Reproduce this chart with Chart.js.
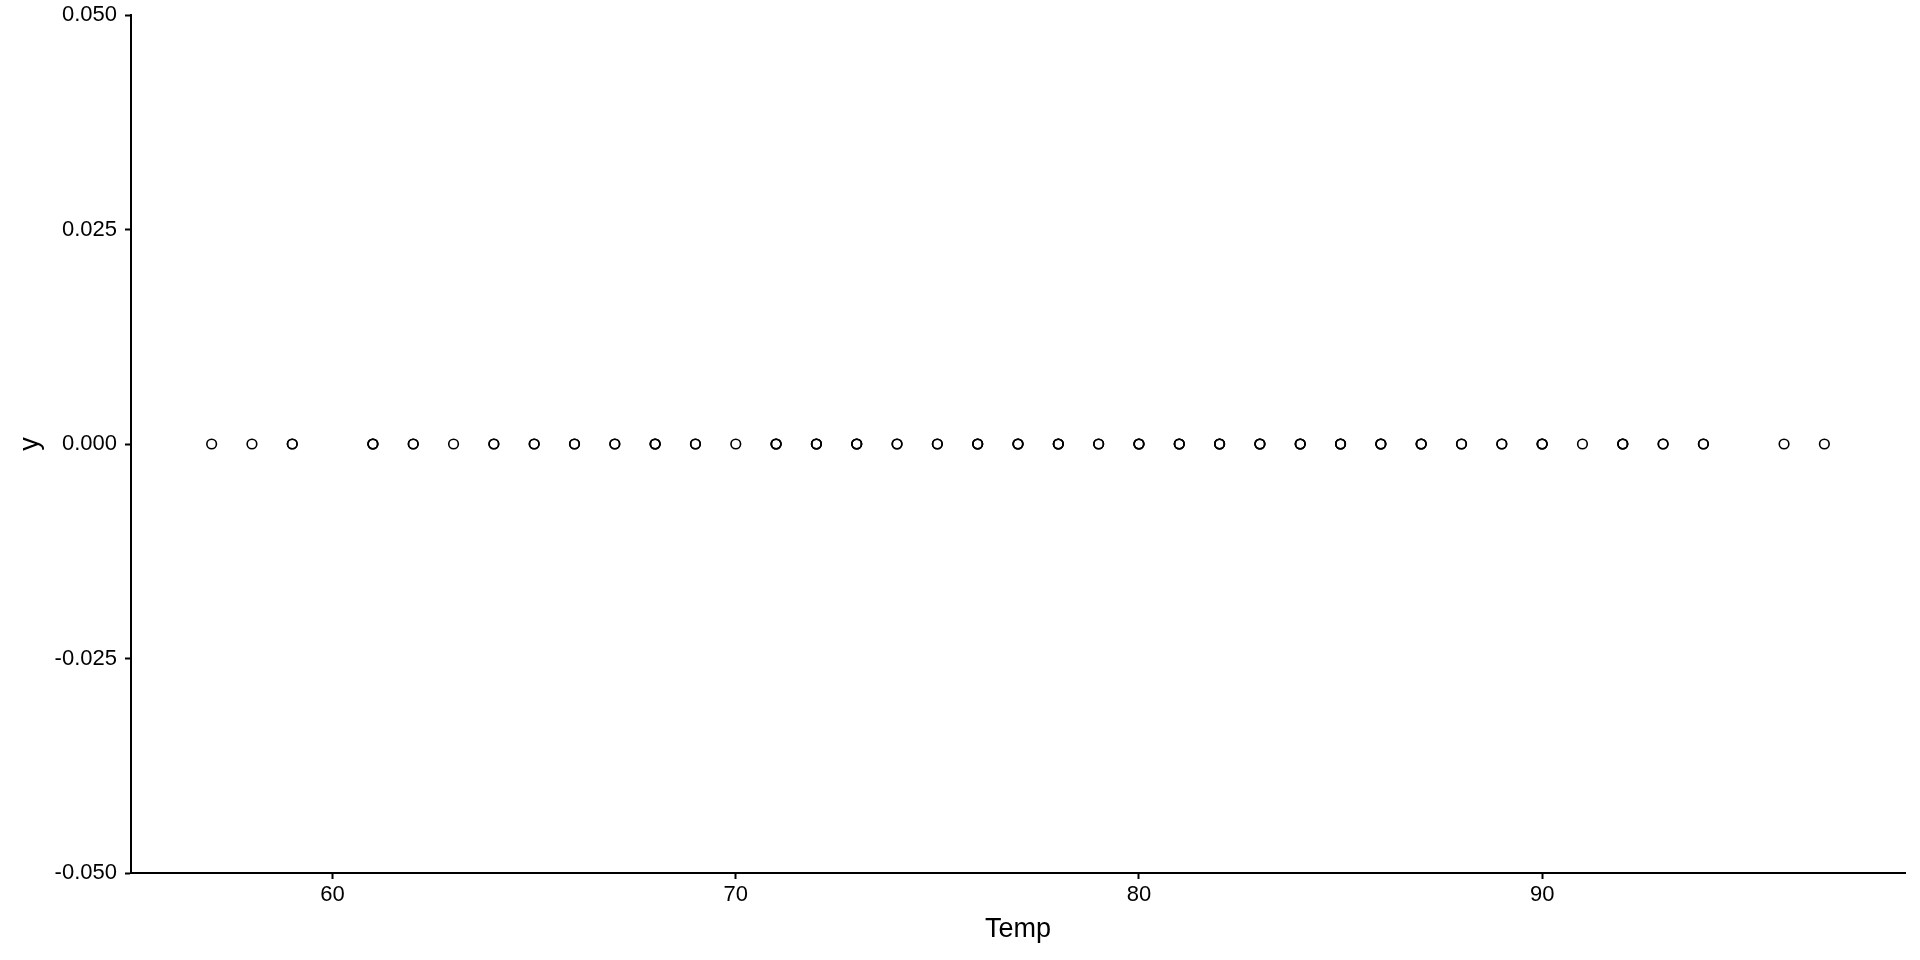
<!DOCTYPE html>
<html>
<head>
<meta charset="utf-8">
<script src="https://cdn.jsdelivr.net/npm/chart.js@4"></script>
<style>
    html, body { margin: 0; padding: 0; background: #fff; }
    #wrap { width: 1920px; height: 960px; }
</style>
</head>
<body>
<div id="wrap"><canvas id="scatterChart"></canvas></div>
<script>
// distinct Temp values seen on the plot, and roughly how many times each one is stacked
const temps = [57, 58, 59, 61, 62, 63, 64, 65, 66, 67, 68, 69, 70, 71, 72, 73, 74, 75, 76, 77, 78,
    79, 80, 81, 82, 83, 84, 85, 86, 87, 88, 89, 90, 91, 92, 93, 94, 96, 97];
const counts = [1, 1, 2, 3, 2, 1, 2, 2, 2, 2, 3, 2, 1, 3, 3, 3, 2, 2, 3, 3, 3,
    2, 3, 3, 3, 3, 3, 3, 3, 3, 2, 2, 3, 1, 3, 2, 2, 1, 1];
const yValue = 0;
const xTicks = [60, 70, 80, 90];
const yTicks = [-0.05, -0.025, 0, 0.025, 0.05];

const points = [];
temps.forEach(function(t, i) {
    for (let k = 0; k < counts[i]; k++) {
        points.push({ x: t, y: yValue });
    }
});

const font = 'Liberation Sans, Arial, Helvetica, sans-serif';

const ctx = document.getElementById('scatterChart').getContext('2d');
new Chart(ctx, {
    type: 'scatter',
    data: {
        datasets: [{
            label: 'y',
            data: points,
            pointRadius: 4.8,
            pointBorderWidth: 1.6,
            borderColor: '#000',
            backgroundColor: 'rgba(0,0,0,0)',
            pointHoverRadius: 4.8
        }]
    },
    options: {
        responsive: true,
        maintainAspectRatio: false,
        animation: false,
        layout: {
            padding: { left: 0, top: 0, right: 15, bottom: 0 }
        },
        plugins: {
            legend: { display: false },
            tooltip: { enabled: false }
        },
        scales: {
            x: {
                type: 'linear',
                min: 55,
                max: 99,
                afterBuildTicks: function(scale) {
                    scale.ticks = xTicks.map(v => ({ value: v }));
                },
                afterFit: function(scale) {
                    scale.height = 87;
                    scale.paddingLeft = 0;
                    scale.paddingRight = 0;
                },
                ticks: {
                    color: '#000',
                    font: { family: font, size: 22 },
                    padding: 3,
                    maxRotation: 0
                },
                grid: {
                    drawOnChartArea: false,
                    drawTicks: true,
                    tickLength: 6,
                    tickWidth: 2,
                    tickColor: '#000'
                },
                border: { color: '#000', width: 2 },
                title: {
                    display: true,
                    text: 'Temp',
                    color: '#000',
                    font: { family: font, size: 27 },
                    padding: { top: 0, bottom: 14 }
                }
            },
            y: {
                type: 'linear',
                min: -0.05,
                max: 0.05,
                afterBuildTicks: function(scale) {
                    scale.ticks = yTicks.map(v => ({ value: v }));
                },
                afterFit: function(scale) {
                    scale.width = 131;
                    scale.paddingTop = 15;
                    scale.paddingBottom = 0;
                },
                ticks: {
                    color: '#000',
                    font: { family: font, size: 22 },
                    padding: 8,
                    callback: function(value) {
                        return value.toFixed(3);
                    }
                },
                grid: {
                    drawOnChartArea: false,
                    drawTicks: true,
                    tickLength: 6,
                    tickWidth: 2,
                    tickColor: '#000'
                },
                border: { color: '#000', width: 2 },
                title: {
                    display: true,
                    text: 'y',
                    color: '#000',
                    font: { family: font, size: 27 },
                    padding: { top: 14, bottom: 0 }
                }
            }
        }
    }
});
</script>
</body>
</html>
